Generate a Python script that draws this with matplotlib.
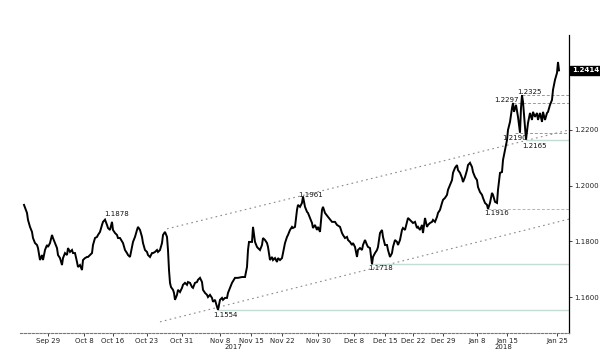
import numpy as np
import matplotlib
matplotlib.use("Agg")
import matplotlib.pyplot as plt

# time axis position (trading-time units) and EUR/USD price
t = [24, 27, 28, 30, 32, 33, 35, 37, 38, 40, 42, 43, 45, 47, 48, 50, 52, 53, 55, 57,
     58, 60, 62, 63, 65, 67, 68, 70, 72, 73, 75, 77, 78, 80, 82, 83, 85, 87, 88, 90,
     92, 93, 95, 97, 98, 100, 102, 103, 105, 107, 108, 110, 112, 113, 115, 117, 118, 120, 123, 125,
     127, 128, 130, 132, 133, 135, 137, 138, 140, 142, 143, 145, 147, 148, 150, 152, 153, 155, 157, 158,
     160, 162, 163, 165, 167, 168, 169, 170, 171, 173, 174, 175, 177, 178, 180, 182, 183, 185, 187, 188,
     190, 192, 193, 195, 197, 198, 200, 202, 203, 205, 207, 208, 210, 212, 213, 215, 217, 218, 220, 222,
     223, 225, 227, 228, 230, 232, 235, 238, 242, 245, 247, 248, 249, 252, 253, 255, 257, 258, 260, 262,
     263, 265, 267, 268, 270, 272, 273, 275, 277, 278, 280, 282, 283, 285, 287, 288, 290, 292, 293, 295,
     297, 298, 300, 302, 303, 305, 307, 308, 310, 312, 313, 315, 317, 318, 320, 322, 323, 325, 328, 332,
     335, 337, 340, 342, 343, 345, 347, 348, 350, 352, 353, 355, 357, 358, 360, 362, 363, 365, 367, 368,
     370, 372, 373, 375, 377, 378, 380, 382, 383, 385, 387, 388, 390, 392, 393, 395, 397, 398, 400, 402,
     403, 405, 407, 408, 410, 412, 413, 415, 417, 418, 420, 422, 423, 425, 427, 428, 430, 432, 433, 435,
     437, 438, 440, 442, 443, 445, 447, 448, 450, 452, 453, 455, 457, 458, 460, 462, 463, 465, 467, 468,
     470, 472, 473, 475, 477, 478, 480, 482, 483, 485, 487, 488, 490, 492, 493, 495, 497, 498, 500, 502,
     503, 505, 507, 508, 510, 512, 513, 514, 516, 518, 520, 521, 522, 523, 525, 526, 528, 530, 532, 533,
     535, 537, 538, 540, 542, 543, 545, 547, 548, 550, 552, 553, 555, 557, 558, 559]
price = [1.1931, 1.1902, 1.1877, 1.1852, 1.1834, 1.1812, 1.1794, 1.1787, 1.1776, 1.1733,
         1.1751, 1.1733, 1.1769, 1.1787, 1.1780, 1.1794, 1.1823, 1.1812, 1.1794, 1.1776,
         1.1751, 1.1740, 1.1715, 1.1740, 1.1758, 1.1751, 1.1776, 1.1762, 1.1769, 1.1758,
         1.1758, 1.1726, 1.1708, 1.1715, 1.1697, 1.1733, 1.1740, 1.1744, 1.1744, 1.1751,
         1.1758, 1.1787, 1.1812, 1.1816, 1.1823, 1.1834, 1.1859, 1.1870, 1.1878, 1.1859,
         1.1848, 1.1841, 1.1870, 1.1841, 1.1830, 1.1823, 1.1812, 1.1812, 1.1794, 1.1769,
         1.1758, 1.1751, 1.1744, 1.1780, 1.1798, 1.1816, 1.1841, 1.1852, 1.1841, 1.1816,
         1.1794, 1.1769, 1.1762, 1.1751, 1.1744, 1.1758, 1.1758, 1.1762, 1.1769, 1.1762,
         1.1769, 1.1794, 1.1823, 1.1834, 1.1816, 1.1769, 1.1697, 1.1651, 1.1636, 1.1626,
         1.1615, 1.1590, 1.1608, 1.1626, 1.1618, 1.1633, 1.1644, 1.1651, 1.1644, 1.1654,
         1.1651, 1.1636, 1.1633, 1.1651, 1.1654, 1.1662, 1.1669, 1.1654, 1.1626, 1.1615,
         1.1608, 1.1600, 1.1608, 1.1597, 1.1583, 1.1590, 1.1565, 1.1554, 1.1590, 1.1597,
         1.1590, 1.1597, 1.1597, 1.1615, 1.1633, 1.1651, 1.1669, 1.1669, 1.1672, 1.1672,
         1.1708, 1.1769, 1.1798, 1.1798, 1.1852, 1.1798, 1.1780, 1.1776, 1.1769, 1.1787,
         1.1812, 1.1805, 1.1794, 1.1780, 1.1733, 1.1744, 1.1733, 1.1740, 1.1726, 1.1740,
         1.1733, 1.1740, 1.1758, 1.1794, 1.1816, 1.1823, 1.1841, 1.1852, 1.1848, 1.1852,
         1.1913, 1.1931, 1.1924, 1.1938, 1.1961, 1.1924, 1.1906, 1.1902, 1.1884, 1.1866,
         1.1848, 1.1859, 1.1841, 1.1852, 1.1834, 1.1913, 1.1924, 1.1902, 1.1888, 1.1870,
         1.1870, 1.1859, 1.1852, 1.1830, 1.1823, 1.1812, 1.1816, 1.1805, 1.1798, 1.1787,
         1.1794, 1.1780, 1.1744, 1.1769, 1.1776, 1.1769, 1.1787, 1.1805, 1.1787, 1.1780,
         1.1776, 1.1718, 1.1744, 1.1758, 1.1769, 1.1780, 1.1830, 1.1841, 1.1816, 1.1787,
         1.1787, 1.1769, 1.1744, 1.1758, 1.1780, 1.1805, 1.1798, 1.1787, 1.1805, 1.1841,
         1.1848, 1.1841, 1.1870, 1.1884, 1.1877, 1.1870, 1.1866, 1.1870, 1.1848, 1.1852,
         1.1841, 1.1859, 1.1830, 1.1884, 1.1852, 1.1859, 1.1866, 1.1870, 1.1877, 1.1870,
         1.1888, 1.1902, 1.1913, 1.1938, 1.1949, 1.1956, 1.1967, 1.1985, 1.2003, 1.2020,
         1.2046, 1.2064, 1.2074, 1.2056, 1.2046, 1.2028, 1.2013, 1.2031, 1.2056, 1.2074,
         1.2082, 1.2067, 1.2049, 1.2031, 1.2020, 1.1995, 1.1977, 1.1967, 1.1956, 1.1938,
         1.1931, 1.1916, 1.1938, 1.1974, 1.1967, 1.1942, 1.1938, 1.1985, 1.2046, 1.2049,
         1.2092, 1.2128, 1.2164, 1.2200, 1.2229, 1.2279, 1.2297, 1.2265, 1.2290, 1.2247,
         1.2190, 1.2279, 1.2325, 1.2301, 1.2211, 1.2165, 1.2225, 1.2261, 1.2236, 1.2265,
         1.2247, 1.2261, 1.2236, 1.2261, 1.2229, 1.2265, 1.2236, 1.2261, 1.2265, 1.2290,
         1.2308, 1.2344, 1.2380, 1.2405, 1.2444, 1.2414]

tick_pos = [48, 84, 113, 147, 182, 220, 251, 282, 318, 354, 385, 413, 443, 477, 507, 557]
tick_labels = ["Sep 29", "Oct 8", "Oct 16", "Oct 23", "Oct 31", "Nov 8", "Nov 15", "Nov 22",
               "Nov 30", "Dec 8", "Dec 15", "Dec 22", "Dec 29", "Jan 8", "Jan 15", "Jan 25"]
year_pos = [233, 503]
year_labels = ["2017", "2018"]
# 1.2400 sits under the last-price box, so only its tick mark shows
y_ticks = [1.16, 1.18, 1.20, 1.22, 1.24]
y_labels = ["1.1600", "1.1800", "1.2000", "1.2200", ""]

# marked highs/lows: value, where it occurred, where its level line starts, style
levels = [1.1878, 1.1961, 1.1718, 1.1554, 1.1916, 1.2297, 1.2325, 1.2190, 1.2165]
level_t = [105, 303, 372, 218, 488, 513, 522, 515, 526]
level_line = [None, None, "solid", "solid", "dashed", "dashed", "dashed", "dashed", "solid"]
label_offset = [(12, 6), (8, 2), (9, -4), (7, -5), (9, -4), (-7, 3), (7, 3), (0, -5), (8, -6)]

# trend channel (t, price) end points
chan_upper = ([167, 569], [1.1845, 1.2200])
chan_lower = ([160, 569], [1.1511, 1.1880])
last_price = 1.2414

fig = plt.figure(figsize=(6, 3.56), dpi=100)
ax = fig.add_axes([20 / 600, 23 / 356, 549 / 600, 298 / 356])
ax.set_xlim(20, 569)
ax.set_ylim(1.1471, 1.2541)

ax.plot(chan_upper[0], chan_upper[1], color="#8a8a8a", lw=0.8, ls=(0, (1.5, 3)))
ax.plot(chan_lower[0], chan_lower[1], color="#8a8a8a", lw=0.8, ls=(0, (1.5, 3)))

for lv, lt, style in zip(levels, level_t, level_line):
    if style == "solid":
        ax.plot([lt, 569], [lv, lv], color="#c5dbd5", lw=1.0)
    elif style == "dashed":
        c = "#9fbfb6" if lv < 1.2 else "#999999"
        ax.plot([lt, 569], [lv, lv], color=c, lw=0.7, ls=(0, (3, 2)))

ax.plot(t, price, color="black", lw=1.4, solid_joinstyle="miter")

for lv, lt, (dx, dy) in zip(levels, level_t, label_offset):
    ax.annotate(f"{lv:.4f}", (lt, lv), xytext=(dx * 0.72, dy * 0.72),
                textcoords="offset points", ha="center", va="center",
                fontsize=5, color="#111111")

for s in ["top", "left"]:
    ax.spines[s].set_visible(False)
ax.spines["right"].set_color("black")
ax.spines["right"].set_linewidth(0.9)
ax.spines["bottom"].set_color("#777777")
ax.spines["bottom"].set_linewidth(0.8)
ax.spines["bottom"].set_linestyle((0, (2, 1.5)))

ax.yaxis.tick_right()
ax.set_yticks(y_ticks)
ax.set_yticklabels(y_labels)
ax.tick_params(axis="y", labelsize=5, length=2, width=0.6, pad=1.5, colors="#222222")
ax.set_xticks(tick_pos)
ax.set_xticklabels(tick_labels)
ax.tick_params(axis="x", labelsize=5, length=2, width=0.6, pad=1.5, colors="#222222")

for yp, yl in zip(year_pos, year_labels):
    ax.annotate(yl, (yp, 0), xycoords=("data", "axes fraction"), xytext=(0, -10),
                textcoords="offset points", ha="center", va="center",
                fontsize=5, color="#222222")

ax.annotate(f"{last_price:.4f}", (1, last_price), xycoords=("axes fraction", "data"),
            xytext=(2, 0), textcoords="offset points", ha="left", va="center",
            fontsize=5, color="white", fontweight="bold",
            bbox=dict(boxstyle="square,pad=0.2", fc="black", ec="black"))

fig.savefig("out.png", dpi=100)
